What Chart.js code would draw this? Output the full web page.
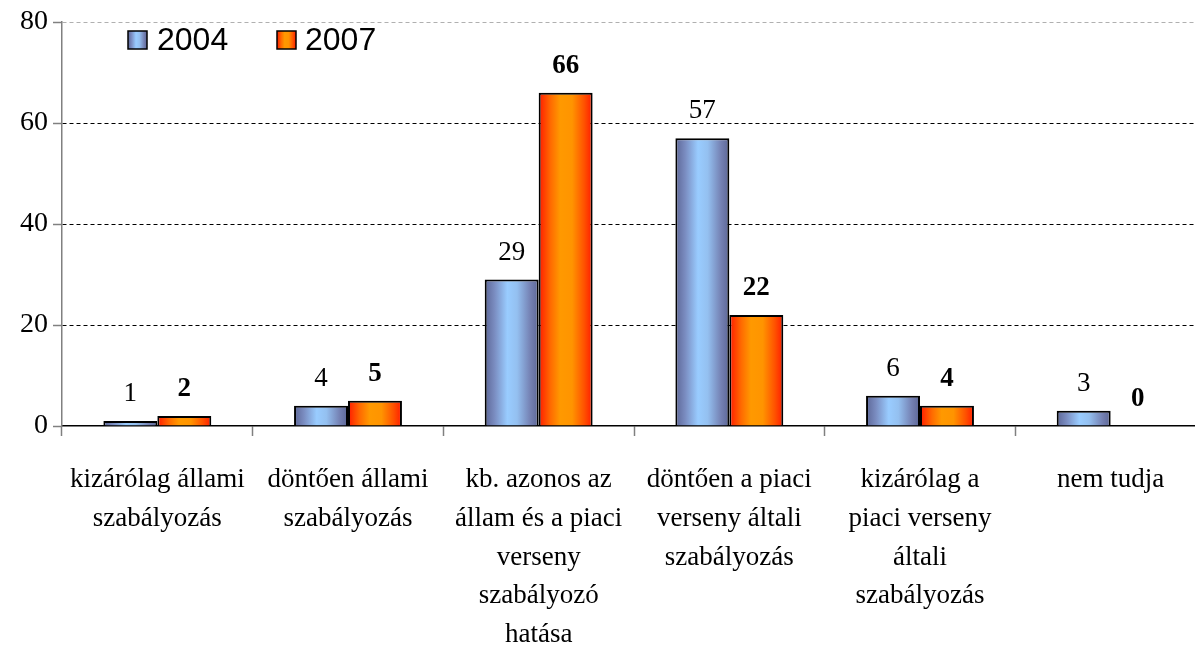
<!DOCTYPE html>
<html><head><meta charset="utf-8">
<script src="https://cdn.jsdelivr.net/npm/chart.js@4"></script>
<style>html,body{margin:0;padding:0;overflow:hidden;background:#fff;width:1195px;height:645px}canvas{display:block}</style>
</head><body>
<canvas id="c" width="1210" height="645" style="width:1210px;height:645px"></canvas>
<script>
const categories = [
  ["kizárólag állami", "szabályozás"],
  ["döntően állami", "szabályozás"],
  ["kb. azonos az", "állam és a piaci", "verseny", "szabályozó", "hatása"],
  ["döntően a piaci", "verseny általi", "szabályozás"],
  ["kizárólag a", "piaci verseny", "általi", "szabályozás"],
  ["nem tudja"]
];
const seriesNames = ["2004", "2007"];
const values2004 = [1, 4, 29, 57, 6, 3];
const values2007 = [2, 5, 66, 22, 4, 0];
const yTickValues = [0, 20, 40, 60, 80];

const CAT_PCT = 0.566;
const SERIF = "'Liberation Serif', 'Times New Roman', serif";
const SANS = "'Liberation Sans', Arial, sans-serif";

function makeGrad(c, left, width, which) {
  const g = c.createLinearGradient(left, 0, left + width, 0);
  if (which === 0) {
    g.addColorStop(0, '#5c6696');
    g.addColorStop(0.18, '#7a8cc0');
    g.addColorStop(0.42, '#99ccff');
    g.addColorStop(0.6, '#94c0f0');
    g.addColorStop(0.85, '#7480b2');
    g.addColorStop(1, '#5c6696');
  } else {
    g.addColorStop(0, '#ff1a00');
    g.addColorStop(0.22, '#ff6a00');
    g.addColorStop(0.4, '#ff9900');
    g.addColorStop(0.62, '#ff9400');
    g.addColorStop(0.85, '#ff5000');
    g.addColorStop(1, '#ff1a00');
  }
  return g;
}

function barFill(which) {
  return function (ctx) {
    const chart = ctx.chart;
    const xs = chart.scales && chart.scales.x;
    if (!xs || ctx.type !== 'data' || !xs.width) return which === 0 ? '#99ccff' : '#ff9900';
    const cw = xs.width / categories.length;
    const bw = cw * CAT_PCT / 2;
    const cx = xs.getPixelForValue(ctx.dataIndex);
    const left = which === 0 ? cx - bw : cx;
    return makeGrad(chart.ctx, left, bw, which);
  };
}

const labelPlugin = {
  id: 'valueLabels',
  afterDatasetsDraw(chart) {
    const c = chart.ctx;
    chart.data.datasets.forEach((ds, di) => {
      const meta = chart.getDatasetMeta(di);
      meta.data.forEach((el, i) => {
        c.save();
        c.fillStyle = '#000';
        c.textAlign = 'center';
        c.textBaseline = 'middle';
        c.font = (di === 1 ? 'bold ' : '') + '27px ' + SERIF;
        c.fillText(String(ds.data[i]), el.x, el.y - 27);
        c.restore();
      });
    });
  }
};

const legendPlugin = {
  id: 'customLegend',
  afterDraw(chart) {
    const c = chart.ctx;
    const items = [{x: 128, tx: 157}, {x: 277, tx: 305}];
    chart.data.datasets.forEach((ds, di) => {
      const it = items[di];
      c.save();
      c.fillStyle = makeGrad(c, it.x, 19, di);
      c.fillRect(it.x, 31, 19, 18);
      c.strokeStyle = '#000';
      c.lineWidth = 1.5;
      c.strokeRect(it.x, 31, 19, 18);
      c.fillStyle = '#000';
      c.font = '32px ' + SANS;
      c.textBaseline = 'middle';
      c.textAlign = 'left';
      c.fillText(ds.label, it.tx, 41);
      c.restore();
    });
  }
};

new Chart(document.getElementById('c'), {
  type: 'bar',
  data: {
    labels: categories,
    datasets: [
      {label: seriesNames[0], data: values2004, backgroundColor: barFill(0), borderColor: '#000', borderWidth: 2},
      {label: seriesNames[1], data: values2007, backgroundColor: barFill(1), borderColor: '#000', borderWidth: 2}
    ]
  },
  options: {
    responsive: false,
    animation: false,
    devicePixelRatio: 1,
    datasets: {bar: {categoryPercentage: CAT_PCT, barPercentage: 1.0}},
    layout: {padding: {top: 22, right: 4, left: 0, bottom: 0}},
    plugins: {legend: {display: false}, tooltip: {enabled: false}},
    scales: {
      x: {
        grid: {offset: true, drawOnChartArea: false, drawTicks: true, tickLength: 10, tickColor: '#808080', tickWidth: 1.5},
        border: {color: '#000', width: 1.5},
        ticks: {color: '#000', font: {family: SERIF, size: 27, lineHeight: 1.43}, maxRotation: 0, minRotation: 0, autoSkip: false, padding: 25},
        afterFit(s) { s.height = 219; }
      },
      y: {
        min: 0, max: 80,
        afterBuildTicks(s) { s.ticks = yTickValues.map(v => ({value: v})); },
        grid: {
          color: ctx => ctx.tick && ctx.tick.value === 80 ? '#b0b0b0' : (ctx.tick && ctx.tick.value === 0 ? 'rgba(0,0,0,0)' : '#000'),
          lineWidth: 1,
          borderDash: [4, 3],
          tickLength: 9,
          tickColor: '#808080',
          tickWidth: 1.5,
          tickBorderDash: []
        },
        border: {color: '#808080', width: 1.5, dash: [4, 3]},
        ticks: {color: '#000', font: {family: SERIF, size: 28}, padding: 5},
        afterFit(s) { s.width = 62; }
      }
    }
  },
  plugins: [labelPlugin, legendPlugin]
});
</script>
</body></html>
